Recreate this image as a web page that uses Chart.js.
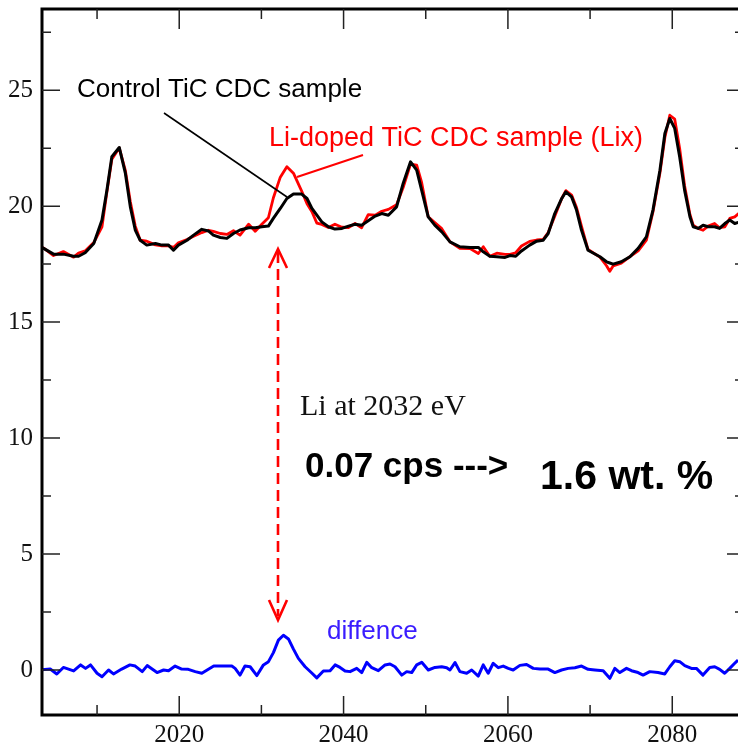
<!DOCTYPE html>
<html>
<head>
<meta charset="utf-8">
<script src="https://cdn.jsdelivr.net/npm/chart.js@4.4.1/dist/chart.umd.min.js"></script>
<style>
  html, body { margin: 0; padding: 0; background: #fff; }
  #wrap { width: 738px; height: 747px; }
</style>
</head>
<body>
<div id="wrap"><canvas id="c" width="738" height="747"></canvas></div>
<script>
// energies (eV) read at the kinks of the control curve
const energy = [2003.0, 2003.5, 2004.7, 2005.9, 2007.15, 2007.75, 2008.55, 2009.6, 2010.6, 2011.2,
  2011.8, 2012.7, 2013.45, 2014.05, 2014.65, 2015.25, 2016.05, 2017.1, 2017.9, 2018.7,
  2019.3, 2019.9, 2020.95, 2021.75, 2022.75, 2023.55, 2024.15, 2025.0, 2025.8, 2026.6,
  2027.4, 2028.45, 2029.25, 2030.05, 2030.85, 2031.45, 2032.3, 2033.1, 2033.9, 2034.9,
  2035.55, 2036.15, 2036.75, 2037.35, 2038.15, 2038.95, 2039.8, 2040.6, 2041.4, 2042.2,
  2043.0, 2043.85, 2044.65, 2045.45, 2046.45, 2047.25, 2048.15, 2048.9, 2049.5, 2050.3,
  2051.1, 2051.95, 2052.95, 2054.15, 2055.4, 2056.4, 2057.0, 2057.8, 2058.65, 2059.65,
  2060.25, 2060.95, 2061.65, 2062.65, 2063.5, 2064.3, 2064.9, 2065.7, 2066.55, 2067.05,
  2067.75, 2068.35, 2068.95, 2069.75, 2071.2, 2072.0, 2072.4, 2072.8, 2073.8, 2074.85,
  2075.85, 2076.85, 2077.65, 2078.5, 2079.1, 2079.7, 2080.3, 2080.9, 2081.5, 2082.15,
  2082.55, 2083.15, 2083.75, 2084.35, 2085.15, 2085.75, 2086.4, 2087.0, 2087.6, 2088.5];

// Control TiC CDC sample (black)
const control = [18.25, 18.18, 17.93, 17.93, 17.84, 17.84, 17.99, 18.39, 19.4, 20.69,
  22.13, 22.53, 21.41, 19.97, 18.97, 18.53, 18.32, 18.39, 18.32, 18.32,
  18.1, 18.32, 18.53, 18.75, 19.0, 18.93, 18.75, 18.65, 18.61, 18.82,
  18.97, 19.07, 19.07, 19.11, 19.14, 19.47, 19.9, 20.33, 20.52, 20.52,
  20.33, 19.9, 19.61, 19.32, 19.11, 19.01, 19.04, 19.14, 19.22, 19.18,
  19.37, 19.57, 19.68, 19.61, 19.97, 20.98, 21.91, 21.55, 20.69, 19.54,
  19.18, 18.89, 18.46, 18.25, 18.22, 18.22, 18.03, 17.84, 17.82, 17.79,
  17.87, 17.84, 18.07, 18.32, 18.49, 18.53, 18.82, 19.68, 20.33, 20.62,
  20.4, 19.83, 18.97, 18.1, 17.82, 17.6, 17.55, 17.5, 17.6, 17.82,
  18.18, 18.68, 19.83, 21.55, 23.13, 23.78, 23.35, 22.13, 20.69, 19.54,
  19.11, 19.04, 19.18, 19.11, 19.11, 19.04, 19.25, 19.4, 19.25, 19.35];

// Li-doped TiC CDC sample (red)
const doped = [18.25, 18.19, 17.87, 18.04, 17.80, 17.98, 18.07, 18.43, 19.11, 20.62,
  22.02, 22.51, 21.53, 20.19, 19.14, 18.53, 18.49, 18.33, 18.29, 18.29,
  18.22, 18.42, 18.56, 18.70, 18.86, 18.96, 18.91, 18.82, 18.78, 18.94,
  18.75, 19.22, 18.92, 19.22, 19.50, 20.35, 21.25, 21.70, 21.42, 20.65,
  20.10, 19.76, 19.27, 19.21, 19.08, 19.22, 19.09, 19.08, 19.25, 19.07,
  19.63, 19.61, 19.78, 19.86, 20.06, 20.80, 21.81, 21.77, 21.02, 19.54,
  19.29, 19.03, 18.46, 18.18, 18.17, 17.96, 18.25, 17.84, 17.97, 17.92,
  17.92, 17.99, 18.28, 18.48, 18.54, 18.57, 18.86, 19.57, 20.33, 20.67,
  20.48, 19.94, 19.14, 18.13, 17.80, 17.43, 17.19, 17.42, 17.54, 17.82,
  18.07, 18.53, 19.75, 21.43, 22.96, 23.92, 23.75, 22.49, 20.88, 19.64,
  19.18, 19.04, 18.96, 19.14, 19.25, 19.07, 19.11, 19.47, 19.54, 19.8];

// difference curve (blue)
const diffEnergy = [2003.1, 2004.3, 2005.1, 2005.9, 2007.15, 2008.0, 2008.6, 2009.2, 2010.0, 2010.6,
  2011.4, 2012.0, 2013.0, 2014.0, 2014.65, 2015.5, 2016.1, 2017.3, 2018.1, 2018.7,
  2019.5, 2020.3, 2021.1, 2021.95, 2022.75, 2024.2, 2025.2, 2026.4, 2026.8, 2027.4,
  2028.0, 2028.63, 2029.45, 2030.25, 2030.86, 2031.46, 2032.07, 2032.68, 2033.29, 2033.9,
  2034.5, 2035.32, 2036.13, 2036.74, 2037.54, 2038.36, 2038.97, 2039.57, 2040.18, 2040.79,
  2041.6, 2042.21, 2042.82, 2043.43, 2044.23, 2045.05, 2045.65, 2046.26, 2047.08, 2047.68,
  2048.29, 2048.9, 2049.51, 2050.31, 2051.12, 2051.94, 2052.55, 2052.95, 2053.56, 2054.16,
  2054.98, 2055.59, 2056.39, 2057.0, 2057.6, 2058.21, 2058.82, 2059.43, 2060.04, 2060.64,
  2061.46, 2062.27, 2063.08, 2063.89, 2064.9, 2065.71, 2066.53, 2067.33, 2068.15, 2068.96,
  2069.76, 2070.58, 2071.59, 2072.4, 2073.01, 2073.62, 2074.43, 2075.04, 2075.84, 2076.45,
  2077.26, 2078.27, 2079.09, 2079.7, 2080.3, 2080.91, 2081.52, 2082.33, 2082.94, 2083.74,
  2084.56, 2085.17, 2085.77, 2086.38, 2086.99, 2087.6, 2088.0, 2088.5];
const diff = [0, 0.04, -0.17, 0.11, -0.04, 0.22, 0.07, 0.22, -0.14, -0.29,
  0, -0.17, 0.04, 0.22, 0.17, -0.07, 0.19, -0.11, 0, -0.03,
  0.17, 0.04, 0.03, -0.07, -0.14, 0.17, 0.17, 0.17, 0.07, -0.22,
  0.17, 0.14, -0.24, 0.22, 0.36, 0.75, 1.29, 1.5, 1.34, 0.9,
  0.5, 0.14, -0.13, -0.34, -0.04, -0.03, 0.22, 0.11, -0.04, -0.07,
  0.07, -0.11, 0.33, 0.1, -0.03, 0.22, 0.26, 0.14, -0.22, -0.07,
  -0.11, 0.22, 0.33, 0, 0.11, 0.14, 0.1, 0, 0.32, -0.07,
  -0.14, 0, -0.26, 0.22, -0.14, 0.29, 0.1, 0.17, 0.07, 0,
  0.2, 0.24, 0.07, 0.04, 0.04, -0.11, 0, 0.07, 0.1, 0.17,
  0.03, 0, -0.03, -0.36, 0.07, -0.11, 0.07, -0.03, -0.11, -0.22,
  -0.07, -0.11, -0.17, 0.14, 0.4, 0.36, 0.19, 0.07, 0.07, -0.22,
  0.11, 0.14, 0.03, -0.14, 0.07, 0.29, 0.43, 0.6];

const xMajor = [2020, 2040, 2060, 2080];
const xMinor = [2010, 2030, 2050, 2070];
const yMajor = [0, 5, 10, 15, 20, 25];
const yMinor = [2.5, 7.5, 12.5, 17.5, 22.5, 27.5];

const SANS = '"Liberation Sans", Arial, sans-serif';
const SERIF = '"Liberation Serif", "Times New Roman", serif';

function pairs(xs, ys) {
  return xs.map((e, i) => ({x: e, y: ys[i]}));
}

const frame = {
  id: 'frame',
  afterDatasetsDraw(chart) {
    const {ctx, chartArea: a, scales: {x, y}} = chart;
    ctx.save();
    ctx.strokeStyle = '#000';
    ctx.lineWidth = 3;
    ctx.beginPath();
    ctx.moveTo(a.right + 2, a.top);
    ctx.lineTo(a.left, a.top);
    ctx.lineTo(a.left, a.bottom);
    ctx.lineTo(a.right + 2, a.bottom);
    ctx.stroke();

    ctx.lineWidth = 1.5;
    ctx.strokeStyle = '#222';
    ctx.beginPath();
    xMajor.forEach(v => {
      const px = x.getPixelForValue(v);
      ctx.moveTo(px, a.bottom); ctx.lineTo(px, a.bottom - 19);
      ctx.moveTo(px, a.top); ctx.lineTo(px, a.top + 20);
    });
    xMinor.forEach(v => {
      const px = x.getPixelForValue(v);
      ctx.moveTo(px, a.bottom); ctx.lineTo(px, a.bottom - 10);
      ctx.moveTo(px, a.top); ctx.lineTo(px, a.top + 10);
    });
    yMajor.forEach(v => {
      const py = y.getPixelForValue(v);
      ctx.moveTo(a.left, py); ctx.lineTo(a.left + 18, py);
      ctx.moveTo(a.right, py); ctx.lineTo(a.right - 11, py);
    });
    yMinor.forEach(v => {
      const py = y.getPixelForValue(v);
      ctx.moveTo(a.left, py); ctx.lineTo(a.left + 9, py);
      ctx.moveTo(a.right, py); ctx.lineTo(a.right - 3, py);
    });
    ctx.stroke();
    ctx.restore();
  },
  afterDraw(chart) {
    const ctx = chart.ctx;
    ctx.save();
    // pointer lines
    ctx.lineWidth = 1.6;
    ctx.strokeStyle = '#000';
    ctx.beginPath(); ctx.moveTo(164, 113); ctx.lineTo(287, 197); ctx.stroke();
    ctx.strokeStyle = '#ff0000';
    ctx.lineWidth = 2;
    ctx.beginPath(); ctx.moveTo(297, 177); ctx.lineTo(363, 155); ctx.stroke();

    // red dashed double arrow
    ctx.lineWidth = 2.6;
    ctx.setLineDash([11, 6]);
    ctx.beginPath(); ctx.moveTo(278, 252); ctx.lineTo(278, 616); ctx.stroke();
    ctx.setLineDash([]);
    ctx.beginPath();
    ctx.moveTo(269, 268); ctx.lineTo(278, 249); ctx.lineTo(287, 268);
    ctx.moveTo(269, 600); ctx.lineTo(278, 620); ctx.lineTo(287, 600);
    ctx.stroke();

    ctx.textAlign = 'left';
    ctx.textBaseline = 'alphabetic';
    ctx.fillStyle = '#000';
    ctx.font = '26px ' + SANS;
    ctx.fillText('Control TiC CDC sample', 77, 97);
    ctx.fillStyle = '#ff0000';
    ctx.font = '27px ' + SANS;
    ctx.fillText('Li-doped TiC CDC sample (Lix)', 269, 146);

    ctx.fillStyle = '#111';
    ctx.font = '30px ' + SERIF;
    ctx.fillText('Li at 2032 eV', 300, 415);
    ctx.fillStyle = '#000';
    ctx.font = 'bold 35px ' + SANS;
    ctx.fillText('0.07 cps --->', 305, 477);
    ctx.font = 'bold 41px ' + SANS;
    ctx.fillText('1.6 wt. %', 540, 489);

    ctx.fillStyle = '#3a1cff';
    ctx.font = '26px ' + SANS;
    ctx.fillText('diffence', 327, 639);
    ctx.restore();
  }
};

new Chart(document.getElementById('c'), {
  type: 'line',
  data: {
    datasets: [
      { label: 'Control TiC CDC sample', data: pairs(energy, control), borderColor: '#000', borderWidth: 3 },
      { label: 'Li-doped TiC CDC sample (Lix)', data: pairs(energy, doped), borderColor: '#ff0000', borderWidth: 2.8 },
      { label: 'diffence', data: pairs(diffEnergy, diff), borderColor: '#0000ff', borderWidth: 3 }
    ]
  },
  options: {
    responsive: false,
    animation: false,
    events: [],
    layout: { padding: { top: 9, left: 0, right: 0, bottom: 0 } },
    elements: { point: { radius: 0 }, line: { tension: 0, borderJoinStyle: 'round' } },
    plugins: { legend: { display: false }, tooltip: { enabled: false } },
    scales: {
      x: {
        type: 'linear',
        min: 2003.3,
        max: 2088.0,
        grid: { display: false, drawTicks: false },
        border: { display: false },
        afterBuildTicks: s => { s.ticks = xMajor.map(v => ({value: v})); },
        afterFit: s => { s.height = 32; s.paddingLeft = 0; s.paddingRight = 0; },
        ticks: { padding: 5, color: '#111', font: { family: SERIF, size: 25 }, maxRotation: 0,
                 callback: v => String(v) }
      },
      y: {
        min: -1.94,
        max: 28.5,
        grid: { display: false, drawTicks: false },
        border: { display: false },
        afterBuildTicks: s => { s.ticks = yMajor.map(v => ({value: v})); },
        afterFit: s => { s.width = 42; s.paddingTop = 0; s.paddingBottom = 0; },
        ticks: { padding: 9, color: '#111', font: { family: SERIF, size: 25 }, callback: v => String(v) }
      }
    }
  },
  plugins: [frame]
});
</script>
</body>
</html>
